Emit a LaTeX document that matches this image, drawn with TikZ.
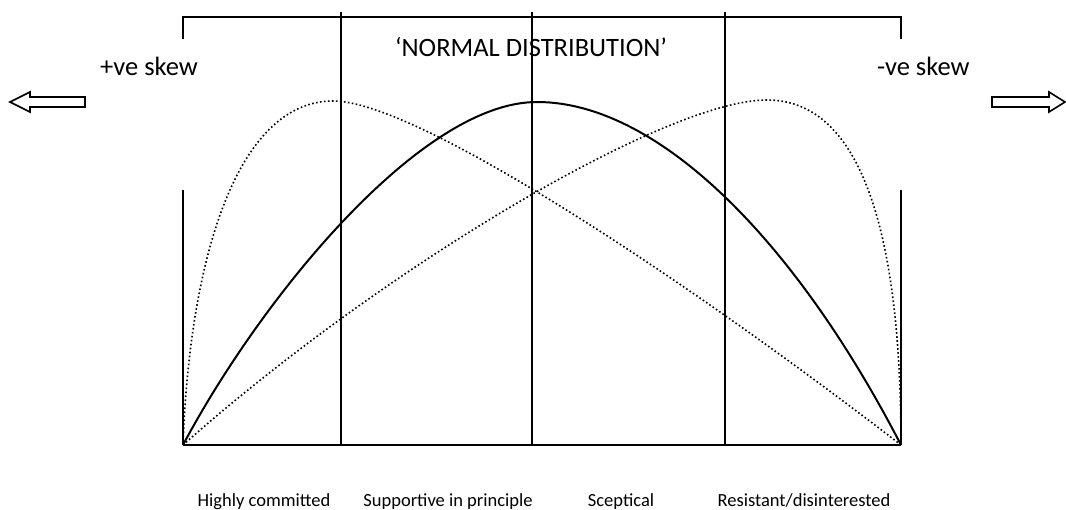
\documentclass[tikz,border=0pt]{standalone}
\usepackage{fontspec}
\setmainfont{Carlito}
\begin{document}
\begin{tikzpicture}[x=1pt,y=-1pt]
  \tikzset{bar/.style={line width=2pt},
    base/.style={line width=2.6pt},
    dots/.style={line width=1.6pt,dash pattern=on 1.6pt off 2.4pt},
    big/.style={inner sep=0pt,font=\fontsize{26.5}{32}\selectfont},
    lbl/.style={inner sep=0pt,anchor=base,font=\fontsize{18.5}{22}\selectfont},
    hollow/.style={line width=1.6pt,line join=miter}}
  \useasboundingbox (0,0) rectangle (1066,510);
  \coordinate (o) at (183,445); \coordinate (e) at (901,445);
  \node[big,anchor=base] (nd) at (531,57) {‘NORMAL DISTRIBUTION’};
  \node[big,anchor=base west] (pos) at (100,76) {+ve skew};
  \node[big,anchor=base west] (neg) at (877,76) {-ve skew};
  \node[lbl] (l1) at (264,507) {Highly committed};
  \node[lbl] (l2) at (448,507) {Supportive in principle};
  \node[lbl] (l3) at (621,507) {Sceptical};
  \node[lbl] (l4) at (804,507) {Resistant/disinterested};
  \draw[bar] (183,39) -- (183,17) -- (901,17) -- (901,39);
  \draw[bar] (183,190) -- (o); \draw[bar] (901,190) -- (e);
  \draw[bar] (341,12) -- (341,445);
  \draw[bar] (532,12) -- (532,445);
  \draw[bar] (725,12) -- (725,445);
  \draw[base] (o) -- (e);
  % curves
  \draw[bar] (o) .. controls (260,300) and (420,102) .. (537,102)
    .. controls (658,102) and (795,240) .. (e);
  \draw[dots] (o) .. controls (190,250) and (240,101) .. (333,101)
    .. controls (420,101) and (700,290) .. (e);
  \draw[dots] (o) .. controls (380,270) and (665,100) .. (767,100)
    .. controls (862,100) and (901,235) .. (e);
  % arrows
  \draw[hollow] (85,97) -- (30,97) -- (30,92) -- (10,102) -- (30,112) -- (30,107) -- (85,107) -- cycle;
  \draw[hollow] (992,97) -- (1049,97) -- (1049,92) -- (1065,102) -- (1049,112) -- (1049,107) -- (992,107) -- cycle;
\end{tikzpicture}
\end{document}
